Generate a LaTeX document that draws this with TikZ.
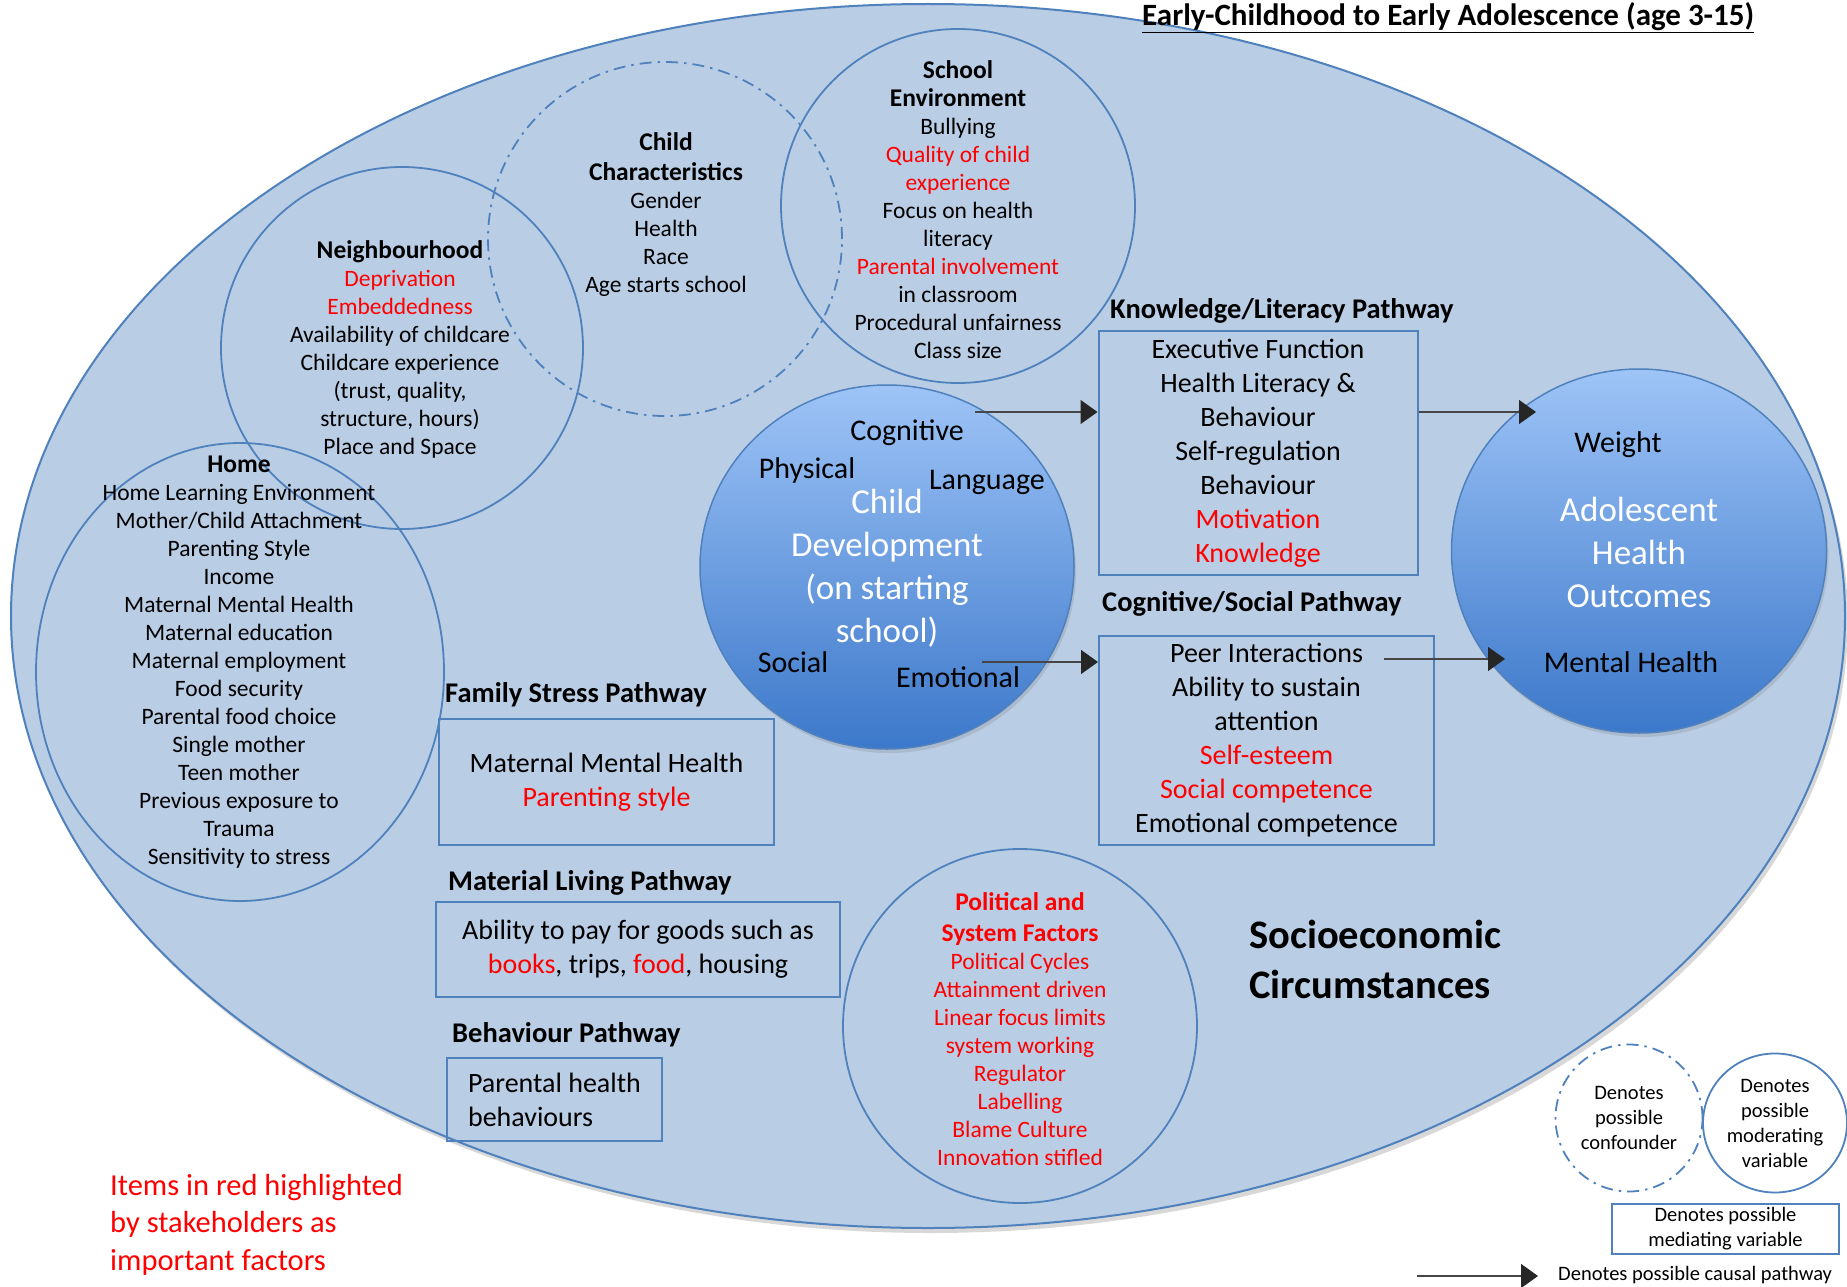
\documentclass[tikz,border=0pt]{standalone}
\usepackage{fontspec}
\setmainfont{Carlito}
\usetikzlibrary{arrows.meta,shapes.geometric,shadows}

\definecolor{ovalfill}{RGB}{185,205,229}
\definecolor{rim}{RGB}{79,129,189}
\definecolor{hired}{RGB}{255,0,0}
\definecolor{gradtop}{RGB}{158,196,247}
\definecolor{gradbot}{RGB}{60,120,202}
\definecolor{linkgrey}{RGB}{70,70,70}

\tikzset{
  ring/.style={circle, draw=rim, line width=1.8pt, inner sep=0pt},
  dashring/.style={circle, draw=rim, line width=1.8pt, inner sep=0pt,
    dash pattern=on 12pt off 6pt on 2.5pt off 6pt},
  blob/.style={ellipse, draw=rim, line width=1.5pt, inner sep=0pt,
    top color=gradtop, bottom color=gradbot,
    drop shadow={opacity=0.25, shadow xshift=2pt, shadow yshift=-4pt}},
  pathbox/.style={draw=rim, line width=2pt, inner sep=0pt, align=center,
    font=\fontsize{28}{34}\selectfont},
  body/.style={align=center, inner sep=0pt, font=\fontsize{23.5}{28}\selectfont},
  pathtitle/.style={anchor=west, inner sep=0pt, font=\bfseries\fontsize{28.5}{34}\selectfont},
  devlabel/.style={inner sep=0pt, font=\fontsize{30}{36}\selectfont},
  whitetext/.style={align=center, inner sep=0pt, text=white, font=\fontsize{35}{43}\selectfont},
  legendtext/.style={align=center, inner sep=0pt, font=\fontsize{20.5}{25}\selectfont},
  causal/.style={draw=linkgrey, line width=1.3pt,
    -{Triangle[length=17pt, width=24pt, color=black!85]}},
}
\newcommand{\hd}[1]{{\bfseries\fontsize{25.5}{28}\selectfont #1}}
\newcommand{\rd}[1]{\textcolor{hired}{#1}}

\begin{document}
\begin{tikzpicture}[x=1pt, y=-1pt]
  \useasboundingbox (0,0) rectangle (1847,1287);
  \clip (0,0) rectangle (1847,1287);
  \fill[white] (0,0) rectangle (1847,1287);

  % socioeconomic field
  \draw[draw=rim, line width=2pt, fill=ovalfill,
        drop shadow={opacity=0.3, shadow xshift=3pt, shadow yshift=-5pt}]
    (928,616) ellipse [x radius=917pt, y radius=612pt];

  % heading
  \node[anchor=base west, inner sep=0pt, font=\bfseries\fontsize{31}{36}\selectfont]
    (heading) at (1142,26) {\underline{Early-Childhood to Early Adolescence (age 3-15)}};

  % context circles
  \node[ring, minimum size=362] (nbh) at (402,348) {};
  \node[dashring, minimum size=354] (chr) at (665,239) {};
  \node[ring, minimum size=354] (sch) at (958,206) {};
  \node[ring, ellipse, minimum width=408, minimum height=458] (home) at (240,672) {};
  \node[ring, minimum size=354] (pol) at (1020,1026) {};

  \node[body] (nbhtext) at (400,349.5) {\hd{Neighbourhood}\\ \rd{Deprivation}\\ \rd{Embeddedness}\\
    Availability of childcare\\ Childcare experience\\ (trust, quality,\\ structure, hours)\\ Place and Space};
  \node[body] (chrtext) at (666,214.5) {\hd{Child}\\[2pt] \hd{Characteristics}\\ Gender\\ Health\\ Race\\ Age starts school};
  \node[body] (schtext) at (958,209.5) {\hd{School}\\ \hd{Environment}\\ Bullying\\ \rd{Quality of child}\\ \rd{experience}\\
    Focus on health\\ literacy\\ \rd{Parental involvement}\\ in classroom\\ Procedural unfairness\\ Class size};
  \node[body] (hometext) at (239,662) {\hd{Home}\\ Home Learning Environment\\ Mother/Child Attachment\\ Parenting Style\\ Income\\
    Maternal Mental Health\\ Maternal education\\ Maternal employment\\ Food security\\ Parental food choice\\
    Single mother\\ Teen mother\\ Previous exposure to\\ Trauma\\ Sensitivity to stress};
  \node[body, text=hired] (poltext) at (1020,1029.5) {\hd{Political and}\\[3pt] \hd{System Factors}\\ Political Cycles\\ Attainment driven\\
    Linear focus limits\\ system working\\ Regulator\\ Labelling\\ Blame Culture\\ Innovation stifled};

  % child development and outcomes
  \node[blob, minimum width=374, minimum height=364] (cd) at (887,567) {};
  \node[whitetext] (cdtext) at (887,568) {Child\\ Development\\ (on starting\\ school)};
  \node[devlabel] (cog) at (907,433) {Cognitive};
  \node[devlabel] (phy) at (807,470) {Physical};
  \node[devlabel] (lan) at (987,482) {Language};
  \node[devlabel] (soc) at (793,662) {Social};
  \node[devlabel] (emo) at (958,677) {Emotional};

  \node[blob, minimum width=375, minimum height=364] (ao) at (1639,551) {};
  \node[whitetext] (aotext) at (1639,552) {Adolescent\\ Health\\ Outcomes};
  \node[devlabel] (wgt) at (1618,445) {Weight};
  \node[devlabel] (mh) at (1631,662) {Mental Health};

  % pathways
  \node[pathtitle] (kltitle) at (1110,311) {Knowledge/Literacy Pathway};
  \node[pathbox, minimum width=319, minimum height=244] (kl) at (1258,453)
    {Executive Function\\ Health Literacy \&\\ Behaviour\\ Self-regulation\\ Behaviour\\ \rd{Motivation}\\ \rd{Knowledge}};
  \node[pathtitle] (cstitle) at (1102,604) {Cognitive/Social Pathway};
  \node[pathbox, minimum width=335, minimum height=209] (cs) at (1266.5,740.5)
    {Peer Interactions\\ Ability to sustain\\ attention\\ \rd{Self-esteem}\\ \rd{Social competence}\\ Emotional competence};
  \node[pathtitle] (fstitle) at (445,695) {Family Stress Pathway};
  \node[pathbox, minimum width=335, minimum height=126] (fs) at (606.5,782)
    {Maternal Mental Health\\ \rd{Parenting style}};
  \node[pathtitle] (mltitle) at (448,883) {Material Living Pathway};
  \node[pathbox, minimum width=404, minimum height=95] (ml) at (638,949.5)
    {Ability to pay for goods such as\\ \rd{books}, trips, \rd{food}, housing};
  \node[pathtitle] (bhtitle) at (452,1035) {Behaviour Pathway};
  \node[pathbox, align=left, minimum width=215, minimum height=83] (bh) at (554.5,1099.5)
    {Parental health\\ behaviours};

  \node[anchor=west, align=left, inner sep=0pt, font=\bfseries\fontsize{40.5}{50}\selectfont]
    (sec) at (1249,959) {Socioeconomic\\ Circumstances};

  \node[anchor=west, align=left, inner sep=0pt, text=hired, font=\fontsize{30.5}{37.5}\selectfont]
    (note) at (110,1224.5) {Items in red highlighted\\ by stakeholders as\\ important factors};

  % causal links
  \coordinate (cdtop) at (975,412);
  \coordinate (cdlow) at (982,662);
  \coordinate (aotop) at (1536,412);
  \coordinate (csout) at (1384,659);
  \coordinate (aolow) at (1505,659);
  \draw[causal] (cdtop) -- (kl.west |- cdtop);
  \draw[causal] (cdlow) -- (cs.west |- cdlow);
  \draw[causal] (kl.east |- cdtop) -- (aotop);
  \draw[causal] (csout) -- (aolow);

  % key
  \node[dashring, minimum size=147] (kconf) at (1629,1118) {};
  \node[legendtext] at (kconf) {Denotes\\ possible\\ confounder};
  \node[ring, ellipse, minimum width=144, minimum height=139] (kmod) at (1775,1123) {};
  \node[legendtext] at (kmod) {Denotes\\ possible\\ moderating\\ variable};
  \node[legendtext, draw=rim, line width=2pt, minimum width=227, minimum height=50] (kmed) at (1725.5,1229)
    {Denotes possible\\ mediating variable};
  \node[legendtext, anchor=west] (kcause) at (1558,1275) {Denotes possible causal pathway};
  \coordinate (kstart) at (1417,1276);
  \draw[causal] (kstart) -- ([xshift=-20pt]kcause.west |- kstart);
\end{tikzpicture}
\end{document}
